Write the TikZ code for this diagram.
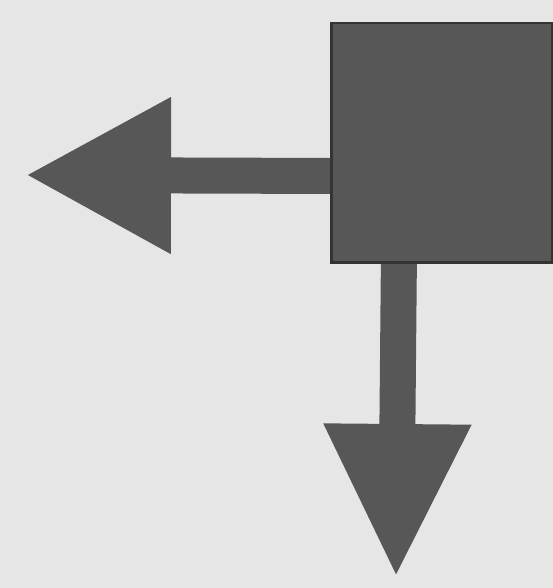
\documentclass[tikz,border=0pt]{standalone}
\usetikzlibrary{arrows.meta}
\definecolor{paper}{HTML}{E6E6E6}
\definecolor{ink}{HTML}{575757}
\definecolor{inkdark}{HTML}{343434}
\begin{document}
\begin{tikzpicture}[x=1pt,y=-1pt,
  block/.style={fill=ink, draw=inkdark, line width=2.5pt, inner sep=0pt, minimum width=221pt, minimum height=239pt},
  shaft/.style={draw=ink, line width=36pt}]
 \fill[paper] (0,0) rectangle (553,588);
 \useasboundingbox (0,0) rectangle (553,588);
 \coordinate (tipL) at (25,175);
 \coordinate (tipD) at (396,578);
 \draw[shaft, -{Triangle[length=146pt,width=146pt]}] (340,176) -- (tipL);
 \draw[shaft, -{Triangle[length=154pt,width=137pt]}] (399,250) -- (tipD);
 \node[block, anchor=north west] (sq) at (330,22) {};
\end{tikzpicture}
\end{document}
